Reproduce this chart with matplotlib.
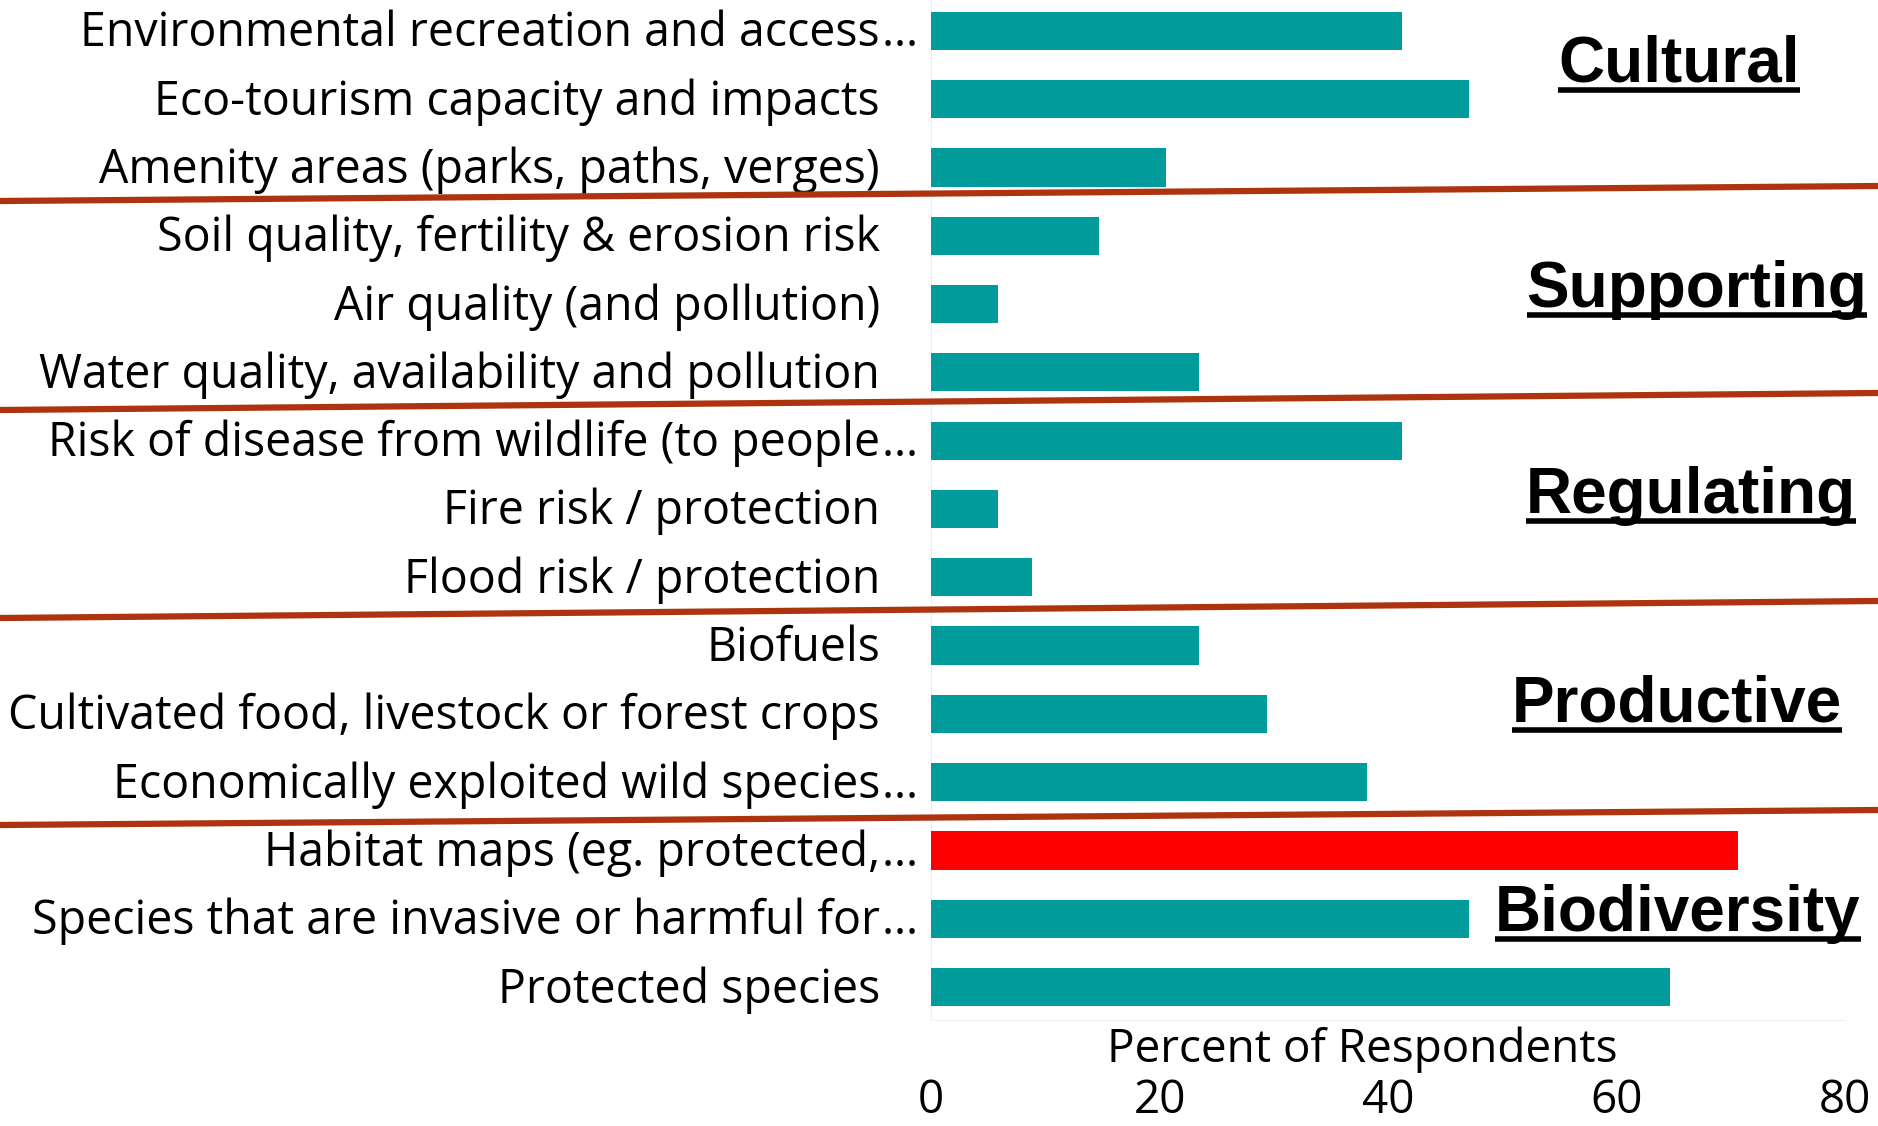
import matplotlib.pyplot as plt
from matplotlib.lines import Line2D

# data (percent of 34 respondents), top row first
labels = [
    "Environmental recreation and access…",
    "Eco-tourism capacity and impacts",
    "Amenity areas (parks, paths, verges)",
    "Soil quality, fertility & erosion risk",
    "Air quality (and pollution)",
    "Water quality, availability and pollution",
    "Risk of disease from wildlife (to people…",
    "Fire risk / protection",
    "Flood risk / protection",
    "Biofuels",
    "Cultivated food, livestock or forest crops",
    "Economically exploited wild species…",
    "Habitat maps (eg. protected,…",
    "Species that are invasive or harmful for…",
    "Protected species",
]
values = [41.2, 47.1, 20.6, 14.7, 5.9, 23.5, 41.2, 5.9, 8.8, 23.5, 29.4, 38.2, 70.6, 47.1, 64.7]
highlight = "Habitat maps (eg. protected,…"
groups = ["Cultural", "Supporting", "Regulating", "Productive", "Biodiversity"]
xticks = [0, 20, 40, 60, 80]

W, H = 1878, 1126
teal = '#009B9A'
sep_color = '#AE3410'
lab_font = 'Open Sans'

fig = plt.figure(figsize=(W / 100, H / 100), dpi=100)
fig.patch.set_facecolor('white')
ax = fig.add_axes([931 / W, 1 - 1020 / H, (1845 - 931) / W, 1020 / H])

colors = ['#FF0000' if l == highlight else teal for l in labels]
ypos = list(range(len(labels)))
ax.barh(ypos, values, height=0.56, color=colors, zorder=3)
ax.set_ylim(len(labels) - 1 + 0.48, -0.45)
ax.set_xlim(0, 80)

ax.set_yticks([])
ax.set_xticks(xticks)
ax.set_xticklabels([str(t) for t in xticks], fontsize=33, family=lab_font)
ax.tick_params(axis='x', length=0, pad=42)
for s in ['top', 'right']:
    ax.spines[s].set_visible(False)
ax.spines['left'].set_color('#EEEEEE')
ax.spines['bottom'].set_color('#F2F2F2')

# category labels, right aligned; ellipsis hangs past the edge
ytr = ax.get_yaxis_transform()
right_x = (880 - 931) / 914
for i, lab in enumerate(labels):
    txt = lab.rstrip('…')
    ax.text(right_x, i + 0.04, txt, transform=ytr, ha='right', va='center',
            fontsize=33.5, family=lab_font, clip_on=False)
    if lab.endswith('…'):
        ax.text(right_x + 0.002, i + 0.04, '…', transform=ytr, ha='left', va='center',
                fontsize=33.5, family=lab_font, clip_on=False)

fig.text(1362 / W, 1 - 1050 / H, "Percent of Respondents", ha='center', va='center',
         fontsize=33, family=lab_font)

# separators between groups (slightly slanted)
seps = [(201, 186), (410, 393), (618, 601), (825, 810)]
for y0, y1 in seps:
    fig.add_artist(Line2D([0, 1], [1 - y0 / H, 1 - y1 / H], transform=fig.transFigure,
                          color=sep_color, lw=4.5, zorder=10))

# group headings, underlined
head_pos = [(1679, 82), (1697, 307), (1691, 513), (1677, 722), (1678, 931)]
heads = []
for name, (hx, hy) in zip(groups, head_pos):
    t = fig.text(hx / W, 1 - hy / H, name, ha='center', va='baseline',
                 fontsize=46, fontweight='bold', family='Liberation Sans')
    heads.append((t, hy))

fig.canvas.draw()
r = fig.canvas.get_renderer()
for t, hy in heads:
    bb = t.get_window_extent(r)
    uy = 1 - (hy + 8) / H
    fig.add_artist(Line2D([bb.x0 / W, bb.x1 / W], [uy, uy], transform=fig.transFigure,
                          color='black', lw=4, solid_capstyle='butt'))

plt.savefig("out.png", dpi=100)
